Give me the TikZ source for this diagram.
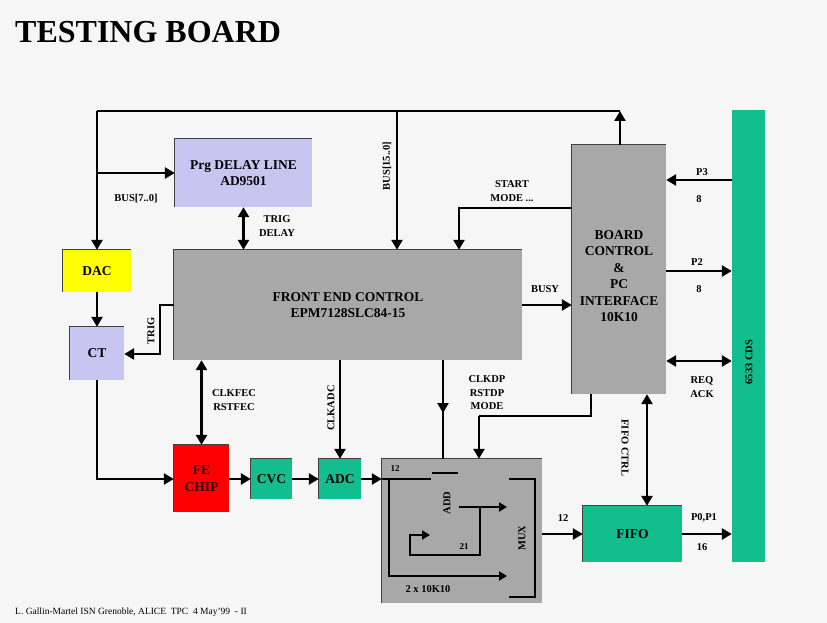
\documentclass[tikz,border=0pt]{standalone}
\usepackage{fontspec}
\setmainfont{Liberation Serif}
\usetikzlibrary{arrows.meta}
\definecolor{bgc}{RGB}{246,246,246}
\definecolor{lav}{RGB}{198,198,240}
\definecolor{grayb}{RGB}{168,168,168}
\definecolor{grn}{RGB}{18,190,142}
\definecolor{yel}{RGB}{255,255,0}
\definecolor{red1}{RGB}{255,0,0}
\begin{document}
\begin{tikzpicture}[x=1pt,y=-1pt,
  blk/.style={inner sep=0pt, align=center, font=\fontsize{13.5}{16.5}\selectfont\bfseries},
  bus/.style={line width=2.5pt, draw=black},
  arr/.style={bus, -{Triangle[length=10pt,width=11pt]}},
  darr/.style={bus, {Triangle[length=10pt,width=11pt]}-{Triangle[length=10pt,width=11pt]}},
  marr/.style={line width=2pt, -{Triangle[length=8pt,width=9pt]}},
  thinl/.style={line width=1.3pt},
  lbl/.style={font=\fontsize{10.5}{13.5}\selectfont\bfseries, inner sep=0pt, align=center},
  edgel/.style={line width=1.2pt, draw=black!75}]

\fill[bgc] (0,0) rectangle (827,623);
\useasboundingbox (0,0) rectangle (827,623);

% title and footer
\node[anchor=base west, inner sep=0pt, font=\fontsize{32}{36}\selectfont\bfseries] (title) at (15,43) {TESTING BOARD};
\node[anchor=west, inner sep=0pt, font=\fontsize{9.5}{10}\selectfont] (foot) at (15,612) {L. Gallin-Martel ISN Grenoble, ALICE \ TPC \ 4 May'99 \ - II};

% boxes
\node[blk, fill=lav, minimum width=137pt, minimum height=68pt] (dl) at (243.5,173) {Prg DELAY LINE\\AD9501};
\node[blk, fill=yel, minimum width=68pt, minimum height=42pt] (dac) at (97,271) {DAC};
\node[blk, fill=lav, minimum width=54pt, minimum height=53pt] (ct) at (97,353.5) {CT};
\node[blk, fill=grayb, minimum width=348pt, minimum height=110pt] (fec) at (348,305) {FRONT END CONTROL\\EPM7128SLC84-15};
\node[blk, fill=grayb, minimum width=94pt, minimum height=249pt] (bc) at (619,269.5) {};
\node[blk] (bct) at (619,276) {BOARD\\CONTROL\\\&\\PC\\INTERFACE\\10K10};
\node[blk, fill=grn, minimum width=33pt, minimum height=452pt] (bar) at (748.5,336) {};
\node[blk, rotate=90, font=\fontsize{10.5}{12}\selectfont\bfseries] (bart) at (749,362) {6533 CDS};
\node[blk, fill=red1, minimum width=55pt, minimum height=67pt, text=black!80!red] (fe) at (201.5,478.5) {FE\\CHIP};
\node[blk, fill=grn, minimum width=41pt, minimum height=40pt] (cvc) at (271.5,479) {CVC};
\node[blk, fill=grn, minimum width=42pt, minimum height=40pt] (adc) at (340,479) {ADC};
\node[blk, fill=grayb, minimum width=160pt, minimum height=144pt] (mux) at (462,531) {};
\node[blk, fill=grn, minimum width=99pt, minimum height=56pt] (fifo) at (632.5,534) {FIFO};

\foreach \n in {dl,dac,ct,fec,bc,fe,cvc,adc,mux,fifo}
  \draw[edgel] (\n.south west) -- (\n.north west) -- (\n.north east);

% top bus
\coordinate (tl) at (97,111);
\coordinate (tr) at (620,111);
\coordinate (j1) at (97,173);
\coordinate (b15) at (397,111);
\draw[bus] (tl) -- (tr);
\draw[arr] (tl) -- (dac.north);
\draw[arr] (j1) -- (dl.west);
\draw[arr] (b15) -- (b15 |- fec.north);
\draw[arr] (bc.north -| tr) -- (tr);
\node[lbl] (l1) at (136,199) {BUS[7..0]};
\node[lbl, rotate=90] (l2) at (387,166) {BUS[15..0]};

% delay <-> fec
\draw[darr] (dl.south) -- (dl.south |- fec.north);
\node[lbl] (l3) at (277,226) {TRIG\\DELAY};

% start mode
\coordinate (sm) at (459,208);
\draw[arr] (bc.west |- sm) -- (sm) -- (sm |- fec.north);
\node[lbl] (l4) at (512,191) {START\\MODE ...};

% busy
\draw[arr] (fec.east) -- (fec.east -| bc.west);
\node[lbl] (l5) at (545,289) {BUSY};

% P3, P2, REQ ACK
\draw[arr] (bar.west |- 0,180) -- (bc.east |- 0,180);
\node[lbl] (l6) at (702,172) {P3};
\node[lbl] (l7) at (699,199) {8};
\draw[arr] (bc.east |- 0,271) -- (bar.west |- 0,271);
\node[lbl] (l8) at (697,262) {P2};
\node[lbl] (l9) at (699,289) {8};
\draw[darr] (bc.east |- 0,361) -- (bar.west |- 0,361);
\node[lbl] (l10) at (702,387) {REQ\\ACK};

% DAC -> CT, TRIG
\draw[arr] (dac.south) -- (ct.north);
\draw[arr] (fec.west) -- (160,305) -- (160,354) -- (ct.east |- 0,354);
\node[lbl, rotate=90] (l11) at (151,331) {TRIG};

% CT -> FE chip
\draw[arr] (ct.south) -- (97,479) -- (fe.west |- 0,479);
\draw[darr] (fe.north |- fec.south) -- (fe.north);
\node[lbl] (l12) at (234,400) {CLKFEC\\RSTFEC};

% chain
\draw[arr] (fe.east |- cvc.west) -- (cvc.west);
\draw[arr] (cvc.east) -- (adc.west);
\draw[arr] (adc.east) -- (mux.west |- adc.east);
\draw[arr] (adc.north |- fec.south) -- (adc.north);
\node[lbl, rotate=90] (l13) at (331,408) {CLKADC};

% CLKDP RSTDP MODE
\coordinate (cd) at (443,413);
\draw[bus] (fec.south -| cd) -- (mux.north -| cd);
\draw[arr] (fec.south -| cd) -- (cd);
\node[lbl] (l14) at (487,393) {CLKDP\\RSTDP\\MODE};

% board -> mux
\coordinate (k1) at (591,416);
\coordinate (k2) at (479,416);
\draw[thinl] (bc.south -| k1) -- (k1) -- (k2);
\draw[arr] (k2) -- (mux.north -| k2);

% FIFO CTRL
\draw[darr] (bc.south -| 647,0) -- (fifo.north -| 647,0);
\node[lbl, rotate=-90] (l15) at (625,448) {FIFO CTRL};

% mux -> fifo -> bar
\draw[arr] (mux.east |- fifo.west) -- (fifo.west);
\node[lbl] (l16) at (563,518) {12};
\draw[arr] (fifo.east) -- (fifo.east -| bar.west);
\node[lbl] (l17) at (704,518) {P0,P1};
\node[lbl] (l18) at (702,547) {16};

% inside mux box
\draw[thinl] (mux.west |- 0,479) -- (431,479);
\draw[thinl] (432,473) -- (458,473);
\draw[marr] (389,479) -- (389,576) -- (507,576);
\draw[marr] (459,507) -- (507,507);
\draw[marr] (480,507) -- (480,555) -- (410,555) -- (410,535) -- (430,535);
\draw[thinl] (509,479) -- (535,479) -- (535,597) -- (509,597);
\node[lbl, font=\fontsize{9}{10}\selectfont\bfseries] (m1) at (395,469) {12};
\node[lbl, rotate=90] (m2) at (447,503) {ADD};
\node[lbl, font=\fontsize{9}{10}\selectfont\bfseries] (m3) at (464,547) {21};
\node[lbl, rotate=90] (m4) at (522,538) {MUX};
\node[lbl] (m5) at (428,589) {2 x 10K10};
\end{tikzpicture}
\end{document}
